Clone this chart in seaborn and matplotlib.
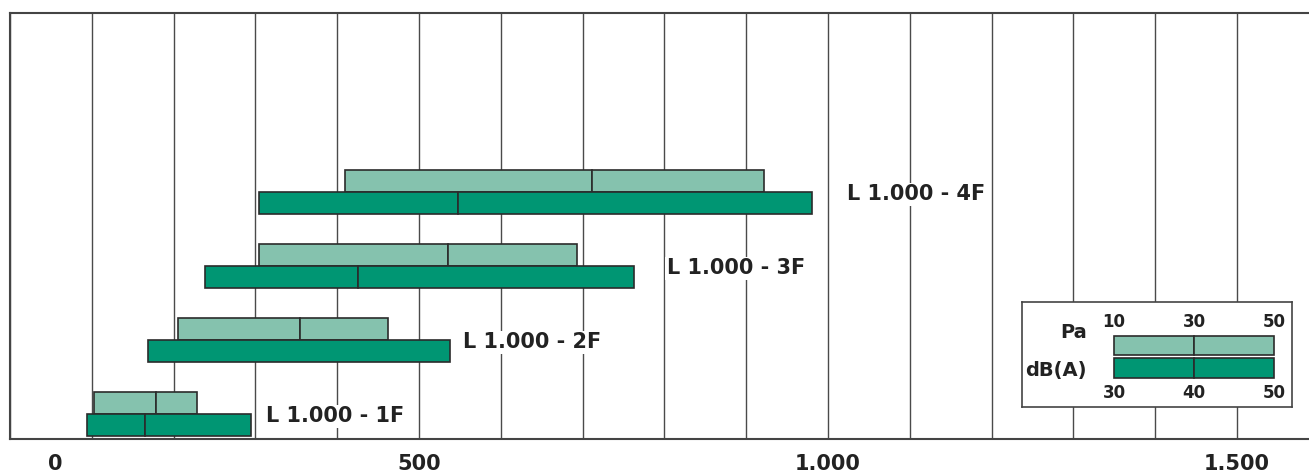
import numpy as np
import pandas as pd
import matplotlib
matplotlib.use("Agg")
import matplotlib.pyplot as plt
import matplotlib.transforms as mtransforms
from matplotlib.ticker import MultipleLocator
import seaborn as sns

# Models, bottom to top
models = ["L 1.000 - 1F", "L 1.000 - 2F", "L 1.000 - 3F", "L 1.000 - 4F"]

# Flow range at Pa = 10 / 30 / 50 (light bars)
pa_start = [103, 205, 305, 410]
pa_mid = [178, 354, 535, 712]
pa_end = [228, 462, 693, 922]

# Flow range at dB(A) = 30 / 40 / 50 (dark bars); 2F has no middle mark
db_start = [94, 169, 238, 305]
db_mid = [165, np.nan, 425, 548]
db_end = [295, 538, 763, 980]

# Where the model names sit on the flow axis
label_x = [313, 554, 803, 1023]

x_ticks = [0, 500, 1000, 1500]
x_ticklabels = ["0", "500", "1.000", "1.500"]

# Legend scales
pa_scale = [10, 30, 50]
db_scale = [30, 40, 50]

LIGHT = "#85c2ae"
DARK = "#009673"
EDGE = "#2b2b2b"
TEXT = "#222222"

df = pd.DataFrame({
    "model": models,
    "pa_start": pa_start, "pa_mid": pa_mid, "pa_end": pa_end,
    "db_start": db_start, "db_mid": db_mid, "db_end": db_end,
    "label_x": label_x,
})

sns.set_theme(style="white")
plt.rcParams["font.family"] = ["DejaVu Sans"]

fig = plt.figure(figsize=(13.09, 4.73), dpi=100)
ax = fig.add_axes([10 / 1309, 34 / 473, 1299 / 1309, 426 / 473])

H = 0.297


def draw_range(ax, y, start, mid, end, color):
    if np.isnan(mid):
        ax.barh(y, end - start, left=start, height=H, color=color,
                edgecolor=EDGE, linewidth=1.2, zorder=3)
    else:
        ax.barh(y, mid - start, left=start, height=H, color=color,
                edgecolor=EDGE, linewidth=1.2, zorder=3)
        ax.barh(y, end - mid, left=mid, height=H, color=color,
                edgecolor=EDGE, linewidth=1.2, zorder=3)


for i, row in df.iterrows():
    draw_range(ax, i + H / 2, row.pa_start, row.pa_mid, row.pa_end, LIGHT)
    draw_range(ax, i - H / 2, row.db_start, row.db_mid, row.db_end, DARK)
    ax.text(row.label_x, i - 0.03, row.model, ha="left", va="center",
            fontsize=15, fontweight="bold", color=TEXT, zorder=4,
            bbox=dict(facecolor="white", edgecolor="none", pad=1))

ax.set_xlim(0, 1588)
ax.set_ylim(-0.338, 5.42)
ax.set_yticks([])
ax.set_xticks(x_ticks)
ax.set_xticklabels(x_ticklabels, fontsize=15, fontweight="bold", color=TEXT)
ax.xaxis.set_minor_locator(MultipleLocator(100))
ax.tick_params(axis="x", which="both", length=0, pad=11)
ax.grid(True, axis="x", which="both", color="#4a4a4a", linewidth=1.0, zorder=0)
ax.set_axisbelow(True)

# the "0" label sits a bit right of the axis origin
lbl0 = ax.get_xticklabels()[0]
lbl0.set_transform(lbl0.get_transform() +
                   mtransforms.ScaledTranslation(45 / 100, 0, fig.dpi_scale_trans))

for side in ["top", "left", "bottom"]:
    ax.spines[side].set_color("#444444")
    ax.spines[side].set_linewidth(1.5)
ax.spines["right"].set_visible(False)

# Legend box
leg = ax.inset_axes([1012 / 1299, 32 / 426, 270 / 1299, 105 / 426])
leg.set_facecolor("white")
leg.set_zorder(5)
leg.set_xlim(-13, 54.5)
leg.set_ylim(-1.73, 2.93)
leg.set_xticks([])
leg.set_yticks([])
for s in leg.spines.values():
    s.set_color("#444444")
    s.set_linewidth(1.2)

LH = 0.87
for y, color in [(1, LIGHT), (0, DARK)]:
    leg.barh(y, pa_scale[1] - pa_scale[0], left=pa_scale[0], height=LH,
             color=color, edgecolor=EDGE, linewidth=1.2)
    leg.barh(y, pa_scale[2] - pa_scale[1], left=pa_scale[1], height=LH,
             color=color, edgecolor=EDGE, linewidth=1.2)

for x, p, d in zip(pa_scale, pa_scale, db_scale):
    leg.text(x, 2.04, str(p), ha="center", va="center", fontsize=12,
             fontweight="bold", color=TEXT)
    leg.text(x, -1.11, str(d), ha="center", va="center", fontsize=12,
             fontweight="bold", color=TEXT)
leg.text(3.2, 1.56, "Pa", ha="right", va="center", fontsize=14,
         fontweight="bold", color=TEXT)
leg.text(3.2, -0.09, "dB(A)", ha="right", va="center", fontsize=14,
         fontweight="bold", color=TEXT)

fig.savefig("out.png", dpi=100)
